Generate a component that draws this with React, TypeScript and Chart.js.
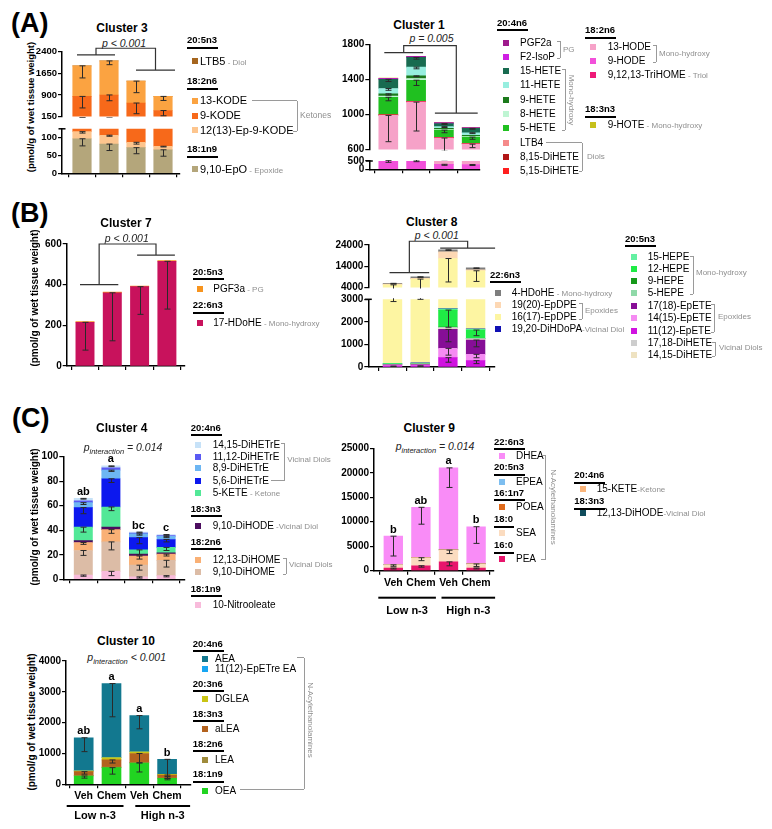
import React, { useEffect, useRef } from 'react';
import { Chart, registerables } from 'chart.js';
Chart.register(...registerables);

const FONT = '"Liberation Sans", Arial, Helvetica, sans-serif';
const GRAY = '#8f8f8f';

// ---- categories ----
const treatments = ['Veh', 'Chem', 'Veh', 'Chem'];
const diets = ['Low n-3', 'High n-3'];

// ---- Cluster 3 (bottom -> top) ----
const c3_EpO = [97, 82, 72, 66];
const c3_EpO_sem = [20, 18, 17, 18];
const c3_EpKODE = [20, 25, 15, 10];
const c3_EpKODE_sem = [4, 3, 5, 2];
const c3_9KODE = [733, 793, 533, 284];
const c3_9KODE_sem = [400, 200, 370, 180];
const c3_13KODE = [1060, 1180, 760, 490];
const c3_13KODE_sem = [420, 130, 400, 140];
const c3_LTB5 = [2, 2, 2, 1];
const c3_ticksUp = [150, 900, 1650, 2400];
const c3_ticksLo = [0, 50, 100];

// ---- Cluster 1 ----
const c1_9HODE = [540, 560, 300, 290];
const c1_9HODE_sem = [120, 100, 60, 60];
const c1_13HODE = [448, 580, 430, 370];
const c1_13HODE_sem = [300, 330, 150, 40];
const c1_TriHOME = [2, 2, 2, 2];
const c1_515DiHETE = [3, 3, 2, 2];
const c1_815DiHETE = [2, 2, 1, 2];
const c1_LTB4 = [2, 2, 2, 2];
const c1_5HETE = [198, 241, 83, 72];
const c1_5HETE_sem = [40, 60, 30, 25];
const c1_8HETE = [15, 20, 10, 10];
const c1_9HETE = [25, 30, 10, 10];
const c1_9HETE_sem = [15, 10, 0, 0];
const c1_11HETE = [60, 100, 20, 30];
const c1_11HETE_sem = [20, 20, 10, 10];
const c1_15HETE = [105, 110, 35, 50];
const c1_15HETE_sem = [25, 20, 10, 10];
const c1_F2IsoP = [5, 5, 5, 4];
const c1_PGF2a = [7, 7, 5, 5];
const c1_9HOTE = [1, 1, 1, 1];
const c1_ticksUp = [600, 1000, 1400, 1800];
const c1_ticksLo = [0, 500];

// ---- Cluster 7 ----
const c7_17HDoHE = [215, 360, 390, 515];
const c7_17HDoHE_sem = [137, 236, 136, 235];
const c7_PGF3a = [3, 3, 3, 4];
const c7_ticks = [0, 200, 400, 600];

// ---- Cluster 8 ----
const c8_1112EpETE = [40, 50, 412, 280];
const c8_1112EpETE_sem = [20, 20, 200, 130];
const c8_1415EpETE = [25, 30, 414, 280];
const c8_1415EpETE_sem = [0, 0, 300, 150];
const c8_1718EpETE = [30, 30, 842, 635];
const c8_1718EpETE_sem = [0, 0, 550, 300];
const c8_1415DiHETE = [5, 5, 20, 15];
const c8_1718DiHETE = [10, 15, 62, 40];
const c8_5HEPE = [5, 5, 10, 10];
const c8_9HEPE = [5, 5, 10, 10];
const c8_12HEPE = [25, 20, 752, 367];
const c8_12HEPE_sem = [0, 0, 760, 250];
const c8_15HEPE = [15, 15, 58, 43];
const c8_DiHDoPA = [5, 5, 10, 10];
const c8_1617EpDPE = [5135, 7820, 15060, 10210];
const c8_1617EpDPE_sem = [2400, 5000, 11000, 5000];
const c8_1920EpDPE = [300, 300, 3100, 400];
const c8_4HDoHE = [400, 800, 1000, 950];
const c8_4HDoHE_sem = [200, 300, 300, 300];
const c8_ticksUp = [4000, 14000, 24000];
const c8_ticksLo = [0, 1000, 2000, 3000];

// ---- Cluster 4 ----
const c4_Nitro = [3.5, 6.5, 2, 3];
const c4_Nitro_sem = [1, 3.5, 1, 1];
const c4_910DiHOME = [20, 24, 9.5, 12.5];
const c4_910DiHOME_sem = [4, 6.5, 4, 5.5];
const c4_1213DiHOME = [6.5, 10, 7.5, 5];
const c4_1213DiHOME_sem = [1.5, 3, 2.5, 1.5];
const c4_910DiHODE = [1.5, 2, 1.5, 1];
const c4_5KETE = [11, 16.5, 3.5, 4.5];
const c4_5KETE_sem = [4, 3, 4, 2.5];
const c4_56DiHETrE = [16, 23, 10, 6.5];
const c4_56DiHETrE_sem = [5, 3, 5, 2];
const c4_89DiHETrE = [4, 7, 3, 2.5];
const c4_89DiHETrE_sem = [1.5, 1, 1, 1];
const c4_1112DiHETrE = [1.5, 2, 0.8, 0.7];
const c4_1415DiHETrE = [2, 1.5, 0.7, 0.8];
const c4_1415DiHETrE_sem = [0.6, 0.6, 0.6, 0.6];
const c4_ticks = [0, 20, 40, 60, 80, 100];
const c4_letters = ['ab', 'a', 'bc', 'c'];

// ---- Cluster 9 ----
const c9_PEA = [550, 1020, 1800, 560];
const c9_PEA_sem = [200, 300, 800, 200];
const c9_SEA = [650, 1630, 2400, 810];
const c9_SEA_sem = [300, 600, 700, 500];
const c9_POEA = [20, 30, 40, 20];
const c9_EPEA = [20, 30, 40, 20];
const c9_15KETE = [5, 5, 5, 5];
const c9_1213DiHODE = [5, 5, 5, 5];
const c9_DHEA = [5800, 10230, 16710, 7560];
const c9_DHEA_sem = [4050, 3450, 4000, 3400];
const c9_ticks = [0, 5000, 10000, 15000, 20000, 25000];
const c9_letters = ['b', 'ab', 'a', 'b'];

// ---- Cluster 10 ----
const c10_OEA = [270, 540, 690, 195];
const c10_OEA_sem = [70, 210, 290, 50];
const c10_LEA = [10, 15, 15, 10];
const c10_aLEA = [130, 235, 295, 95];
const c10_aLEA_sem = [80, 100, 300, 50];
const c10_DGLEA = [30, 75, 50, 20];
const c10_EpEA = [5, 5, 5, 5];
const c10_AEA = [1065, 2400, 1175, 485];
const c10_AEA_sem = [450, 1080, 430, 620];
const c10_ticks = [0, 1000, 2000, 3000, 4000];
const c10_letters = ['ab', 'a', 'a', 'b'];

// ---- colours ----
const C = {
  LTB5: '#A5651E', KODE13: '#FBA341', KODE9: '#F7691A', EpKODE: '#FDC58E', EpO: '#B4A67B',
  PGF2a: '#9E1A8C', F2IsoP: '#CF1FE3', HETE15: '#186B50', HETE11: '#97EEDF', HETE9: '#1C7A1C',
  HETE8: '#BFF5D3', HETE5: '#20C020', LTB4: '#F58A8A', DiHETE815: '#B11616', DiHETE515: '#FF1F1F',
  HODE13: '#F6A2C8', HODE9: '#F250DA', TriHOME: '#EE1A78', HOTE9: '#C6C01C',
  PGF3a: '#F7941E', HDoHE17: '#C8125C',
  HDoHE4: '#7E7E7E', EpDPE1920: '#FDD8B4', EpDPE1617: '#FDF5A2', DiHDoPA: '#1010B4',
  HEPE15: '#64F0A2', HEPE12: '#1FEB45', HEPE9: '#16991A', HEPE5: '#8FD9A8',
  EpETE1718: '#860E96', EpETE1415: '#F58BF2', EpETE1112: '#D013E0', DiHETE1718: '#CDCDCD', DiHETE1415: '#EEE2C1',
  DiHETrE1415: '#C7E2F8', DiHETrE1112: '#5A5AF3', DiHETrE89: '#6DB6F3', DiHETrE56: '#0C18EE',
  KETE5: '#52E897', DiHODE910: '#4C0D5F', DiHOME1213: '#F9B075', DiHOME910: '#DCBCA6', Nitro: '#F8BBDB',
  DHEA: '#F98CF7', EPEA: '#7DBEF0', POEA: '#DE6A1B', SEA: '#FBDCC0', PEA: '#E8156C',
  KETE15: '#FBB57B', DiHODE1213: '#0F4C5C',
  AEA: '#12788F', EpEA: '#17A6F2', DGLEA: '#C9C414', aLEA: '#B3621E', LEA: '#9F8B3B', OEA: '#21D421',
};

const S = (color: string, data: number[], err?: number[]) => ({ color, data, err });

const c3Series = [S(C.EpO, c3_EpO, c3_EpO_sem), S(C.EpKODE, c3_EpKODE, c3_EpKODE_sem), S(C.KODE9, c3_9KODE, c3_9KODE_sem), S(C.KODE13, c3_13KODE, c3_13KODE_sem), S(C.LTB5, c3_LTB5)];
const c1Series = [S(C.HODE9, c1_9HODE, c1_9HODE_sem), S(C.HODE13, c1_13HODE, c1_13HODE_sem), S(C.TriHOME, c1_TriHOME), S(C.DiHETE515, c1_515DiHETE), S(C.DiHETE815, c1_815DiHETE), S(C.LTB4, c1_LTB4), S(C.HETE5, c1_5HETE, c1_5HETE_sem), S(C.HETE8, c1_8HETE), S(C.HETE9, c1_9HETE, c1_9HETE_sem), S(C.HETE11, c1_11HETE, c1_11HETE_sem), S(C.HETE15, c1_15HETE, c1_15HETE_sem), S(C.F2IsoP, c1_F2IsoP), S(C.PGF2a, c1_PGF2a), S(C.HOTE9, c1_9HOTE)];
const c7Series = [S(C.HDoHE17, c7_17HDoHE, c7_17HDoHE_sem), S(C.PGF3a, c7_PGF3a)];
const c8Series = [S(C.EpETE1112, c8_1112EpETE, c8_1112EpETE_sem), S(C.EpETE1415, c8_1415EpETE, c8_1415EpETE_sem), S(C.EpETE1718, c8_1718EpETE, c8_1718EpETE_sem), S(C.DiHETE1415, c8_1415DiHETE), S(C.DiHETE1718, c8_1718DiHETE), S(C.HEPE5, c8_5HEPE), S(C.HEPE9, c8_9HEPE), S(C.HEPE12, c8_12HEPE, c8_12HEPE_sem), S(C.HEPE15, c8_15HEPE), S(C.DiHDoPA, c8_DiHDoPA), S(C.EpDPE1617, c8_1617EpDPE, c8_1617EpDPE_sem), S(C.EpDPE1920, c8_1920EpDPE), S(C.HDoHE4, c8_4HDoHE, c8_4HDoHE_sem)];
const c4Series = [S(C.Nitro, c4_Nitro, c4_Nitro_sem), S(C.DiHOME910, c4_910DiHOME, c4_910DiHOME_sem), S(C.DiHOME1213, c4_1213DiHOME, c4_1213DiHOME_sem), S(C.DiHODE910, c4_910DiHODE), S(C.KETE5, c4_5KETE, c4_5KETE_sem), S(C.DiHETrE56, c4_56DiHETrE, c4_56DiHETrE_sem), S(C.DiHETrE89, c4_89DiHETrE, c4_89DiHETrE_sem), S(C.DiHETrE1112, c4_1112DiHETrE), S(C.DiHETrE1415, c4_1415DiHETrE, c4_1415DiHETrE_sem)];
const c9Series = [S(C.PEA, c9_PEA, c9_PEA_sem), S(C.SEA, c9_SEA, c9_SEA_sem), S(C.POEA, c9_POEA), S(C.EPEA, c9_EPEA), S(C.KETE15, c9_15KETE), S(C.DiHODE1213, c9_1213DiHODE), S(C.DHEA, c9_DHEA, c9_DHEA_sem)];
const c10Series = [S(C.OEA, c10_OEA, c10_OEA_sem), S(C.LEA, c10_LEA), S(C.aLEA, c10_aLEA, c10_aLEA_sem), S(C.DGLEA, c10_DGLEA), S(C.EpEA, c10_EpEA), S(C.AEA, c10_AEA, c10_AEA_sem)];

// ---- plugin: error bars, letters, brackets, group labels, break marks ----
const extras = {
  id: 'extras',
  afterDatasetsDraw(chart: any, _a: any, o: any) {
    if (!o || !o.series) return;
    const { ctx, chartArea: A } = chart;
    const xs = chart.scales.x, ys = chart.scales.y;
    const n = o.series[0].data.length;
    const cum = new Array(n).fill(0);
    ctx.save();
    ctx.beginPath();
    ctx.rect(A.left - 6, A.top - 1, A.right - A.left + 12, A.bottom - A.top + 2);
    ctx.clip();
    ctx.strokeStyle = '#2a2a2a';
    ctx.lineWidth = 1;
    o.series.forEach((s: any) => {
      s.data.forEach((v: number, i: number) => {
        cum[i] += v;
        const e = s.err ? s.err[i] : 0;
        if (!e) return;
        const x = Math.round(xs.getPixelForValue(i)) + 0.5;
        const y1 = ys.getPixelForValue(cum[i]);
        const y0 = ys.getPixelForValue(cum[i] - e);
        ctx.beginPath();
        ctx.moveTo(x, y1); ctx.lineTo(x, y0);
        ctx.moveTo(x - 3, y1); ctx.lineTo(x + 3, y1);
        ctx.moveTo(x - 3, y0); ctx.lineTo(x + 3, y0);
        ctx.stroke();
      });
    });
    ctx.restore();
  },
  afterDraw(chart: any, _a: any, o: any) {
    if (!o) return;
    const { ctx, chartArea: A } = chart;
    const xs = chart.scales.x, ys = chart.scales.y;
    ctx.save();
    if (o.letters) {
      const n = o.series[0].data.length;
      ctx.fillStyle = '#000';
      ctx.font = `bold 11px ${FONT}`;
      ctx.textAlign = 'center';
      ctx.textBaseline = 'bottom';
      for (let i = 0; i < n; i++) {
        const tot = o.series.reduce((a: number, s: any) => a + s.data[i], 0);
        ctx.fillText(o.letters[i], xs.getPixelForValue(i), ys.getPixelForValue(tot) - 1);
      }
    }
    if (o.bracket) {
      const b = o.bracket;
      const xl0 = xs.getPixelForValue(0) + b.lx[0], xl1 = xs.getPixelForValue(1) + b.lx[1];
      const xr0 = xs.getPixelForValue(2) + b.rx[0], xr1 = xs.getPixelForValue(3) + b.rx[1];
      const yl = ys.getPixelForValue(b.yL), yr = ys.getPixelForValue(b.yR), yt = ys.getPixelForValue(b.yTop);
      const ml = (xl0 + xl1) / 2, mr = (xr0 + xr1) / 2;
      ctx.strokeStyle = '#333';
      ctx.lineWidth = 1.2;
      ctx.beginPath();
      ctx.moveTo(xl0, yl); ctx.lineTo(xl1, yl);
      ctx.moveTo(ml, yl); ctx.lineTo(ml, yt); ctx.lineTo(mr, yt); ctx.lineTo(mr, yr);
      ctx.moveTo(xr0, yr); ctx.lineTo(xr1, yr);
      ctx.stroke();
    }
    if (o.groups) {
      ctx.fillStyle = '#000';
      ctx.font = `bold 11px ${FONT}`;
      ctx.textAlign = 'center';
      ctx.textBaseline = 'middle';
      o.groups.forEach((g: any) => {
        const xa = xs.getPixelForValue(g.a) + g.l, xb = xs.getPixelForValue(g.b) + g.r;
        const y = A.bottom + o.groupDy;
        ctx.fillRect(xa, y - 1, xb - xa, 2);
        ctx.fillText(g.t, (xa + xb) / 2, y + o.groupTextDy);
      });
    }
    if (o.breakTop) {
      ctx.strokeStyle = '#000';
      ctx.lineWidth = 1.5;
      ctx.beginPath();
      ctx.moveTo(A.left - 3.5, A.top); ctx.lineTo(A.left + 3.5, A.top);
      ctx.stroke();
    }
    ctx.restore();
  },
};

type Ser = { color: string; data: number[]; err?: number[] };
type BarsProps = {
  x0: number; x1: number; yTop: number; yBot: number; yMin: number; yMax: number; ticks: number[];
  c0: number; d: number; barW: number; series: Ser[];
  showX?: boolean; xLabels?: string[]; letters?: string[]; bracket?: any; groups?: any[];
  groupDy?: number; groupTextDy?: number; breakTop?: boolean; tickFs?: number;
};

function Bars(p: BarsProps) {
  const ref = useRef<HTMLCanvasElement>(null);
  const yw = 40, padR = 14, padTop = 16;
  const xh = p.showX ? (p.groups ? 52 : 8) : 2;
  const left = Math.floor(p.x0 - yw);
  const top = Math.floor(p.yTop - padTop);
  const width = Math.ceil(p.x1 + padR - left);
  const height = Math.ceil(p.yBot + xh - top);
  const ywA = p.x0 - left;
  const padTopA = p.yTop - top;
  const xhA = height - (p.yBot - top);
  const padRA = width - (p.x1 - left);
  useEffect(() => {
    const n = p.series[0].data.length;
    const idx = Array.from({ length: n }, (_, i) => i);
    const xmin = -(p.c0 - p.x0) / p.d;
    const xmax = xmin + (p.x1 - p.x0) / p.d;
    const chart = new Chart(ref.current as HTMLCanvasElement, {
      type: 'bar',
      data: {
        datasets: p.series.map((s) => ({
          data: s.data.map((v, i) => ({ x: i, y: v })),
          backgroundColor: s.color,
          borderWidth: 0,
          barThickness: p.barW,
          clip: 0,
        })),
      } as any,
      options: {
        animation: false,
        responsive: false,
        maintainAspectRatio: false,
        events: [],
        layout: { padding: { top: padTopA, right: padRA, left: 0, bottom: p.showX ? 0 : xhA } },
        plugins: {
          legend: { display: false },
          tooltip: { enabled: false },
          extras: {
            series: p.series, letters: p.letters, bracket: p.bracket, groups: p.groups,
            groupDy: p.groupDy, groupTextDy: p.groupTextDy, breakTop: p.breakTop,
          },
        } as any,
        scales: {
          x: {
            type: 'linear', stacked: true, min: xmin, max: xmax, offset: false, display: !!p.showX,
            grid: { display: true, drawOnChartArea: false, drawTicks: true, tickLength: 4, color: '#000', lineWidth: 1.2 },
            border: { display: true, color: '#000', width: 1.5 },
            ticks: {
              display: !!p.xLabels, autoSkip: false, maxRotation: 0, padding: 2, color: '#000',
              font: { family: FONT, size: 10.5, weight: 'bold' },
              callback: (v: any) => (p.xLabels ? p.xLabels[v] ?? '' : ''),
            },
            afterBuildTicks: (s: any) => { s.ticks = idx.map((v) => ({ value: v })); },
            afterFit: (s: any) => { s.height = xhA; s.paddingLeft = 0; s.paddingRight = 0; },
          },
          y: {
            type: 'linear', stacked: true, min: p.yMin, max: p.yMax,
            grid: { display: true, drawOnChartArea: false, drawTicks: true, tickLength: 4, color: '#000', lineWidth: 1.2 },
            border: { display: true, color: '#000', width: 1.5 },
            ticks: { color: '#000', padding: 1, autoSkip: false, font: { family: FONT, size: p.tickFs ?? 10, weight: 'bold' }, callback: (v: any) => String(v) },
            afterBuildTicks: (s: any) => { s.ticks = p.ticks.map((v) => ({ value: v })); },
            afterFit: (s: any) => { s.width = ywA; s.paddingTop = 0; s.paddingBottom = 0; },
          },
        } as any,
      },
      plugins: [extras as any],
    });
    return () => chart.destroy();
  }, []);
  return <canvas ref={ref} width={width} height={height} style={{ position: 'absolute', left, top, width, height }} />;
}

// ---- text helpers ----
function Txt({ x, y, fs = 10, bold = false, italic = false, color = '#000', center = false, children }: any) {
  return (
    <div style={{ position: 'absolute', left: x, top: y - fs / 2, fontSize: fs, lineHeight: 1, fontWeight: bold ? 700 : 400, fontStyle: italic ? 'italic' : 'normal', color, whiteSpace: 'nowrap', fontFamily: FONT, transform: center ? 'translateX(-50%)' : undefined }}>
      {children}
    </div>
  );
}
function Rot({ x, y, t, fs = 10, deg = -90, color = '#000', bold = false }: any) {
  return (
    <div style={{ position: 'absolute', left: x, top: y, transform: `translate(-50%,-50%) rotate(${deg}deg)`, fontSize: fs, lineHeight: 1, fontWeight: bold ? 700 : 400, whiteSpace: 'nowrap', color, fontFamily: FONT }}>{t}</div>
  );
}
function Hdr({ x, y, t, fs = 9.5 }: any) {
  return (
    <div style={{ position: 'absolute', left: x, top: y - fs / 2, fontSize: fs, lineHeight: 1, fontWeight: 700, fontFamily: FONT, whiteSpace: 'nowrap', borderBottom: '2px solid #000', paddingBottom: 2, paddingRight: 1 }}>{t}</div>
  );
}
function Item({ sx, tx, y, c, t, fs = 10, suf, sq = 6 }: any) {
  return (
    <>
      <div style={{ position: 'absolute', left: sx, top: y - sq / 2, width: sq, height: sq, background: c }} />
      <div style={{ position: 'absolute', left: tx, top: y - fs / 2, fontSize: fs, lineHeight: 1, fontFamily: FONT, whiteSpace: 'nowrap', color: '#000' }}>
        {t}
        {suf ? <span style={{ color: GRAY, fontSize: 8 }}>{suf}</span> : null}
      </div>
    </>
  );
}
function HL({ x1, x2, y, c = '#9a9a9a' }: any) {
  return <div style={{ position: 'absolute', left: x1, top: y - 0.5, width: x2 - x1, height: 1, background: c }} />;
}
function VL({ x, y1, y2, c = '#9a9a9a' }: any) {
  return <div style={{ position: 'absolute', left: x - 0.5, top: y1, width: 1, height: y2 - y1, background: c }} />;
}
function Brk({ x, y1, y2, tick = 3 }: any) {
  return (
    <>
      <VL x={x} y1={y1} y2={y2} />
      <HL x1={x - tick} x2={x} y={y1} />
      <HL x1={x - tick} x2={x} y={y2} />
    </>
  );
}
function PInt({ x, y, rel, val }: any) {
  return (
    <div style={{ position: 'absolute', left: x, top: y - 6, transform: 'translateX(-50%)', fontSize: 10.5, lineHeight: 1, fontStyle: 'italic', fontFamily: FONT, whiteSpace: 'nowrap', color: '#222' }}>
      p<span style={{ fontSize: 7.5, position: 'relative', top: 3 }}>interaction</span> {rel} {val}
    </div>
  );
}

const YLAB = '(pmol/g of wet tissue weight)';

export default function App() {
  const groups10 = [
    { a: 0, b: 1, l: -17, r: 12, t: diets[0] },
    { a: 2, b: 3, l: -4, r: 23, t: diets[1] },
  ];
  const groups9 = [
    { a: 0, b: 1, l: -15, r: 15, t: diets[0] },
    { a: 2, b: 3, l: -7, r: 19, t: diets[1] },
  ];
  return (
    <div style={{ position: 'absolute', left: 0, top: 0, width: 772, height: 829, background: '#fff', overflow: 'hidden', fontFamily: FONT }}>
      {/* Panel letters */}
      <Txt x={11} y={23} fs={27} bold>(A)</Txt>
      <Txt x={11} y={213} fs={27} bold>(B)</Txt>
      <Txt x={12} y={418} fs={27} bold>(C)</Txt>

      {/* ===== Cluster 3 ===== */}
      <Txt x={122} y={28} fs={12} bold center>Cluster 3</Txt>
      <Txt x={124} y={43} fs={10.5} italic center color="#222">p &lt; 0.001</Txt>
      <Rot x={30.5} y={107} t={YLAB} fs={9.5} bold />
      <Bars x0={62} x1={180} yTop={51.7} yBot={119.3} yMin={150} yMax={2400} ticks={c3_ticksUp} c0={82} d={27} barW={18.5} series={c3Series} tickFs={9.5}
        bracket={{ yL: 2290, yR: 1760, yTop: 2520, lx: [-5, 6], rx: [0, 12] }} />
      <Bars x0={62} x1={180} yTop={128.8} yBot={173.3} yMin={0} yMax={125} ticks={c3_ticksLo} c0={82} d={27} barW={18.5} series={c3Series} showX breakTop tickFs={9.5} />
      <Hdr x={187} y={40} t="20:5n3" />
      <Item sx={192} tx={200} y={61} c={C.LTB5} t="LTB5" fs={11} suf=" - Diol" />
      <Hdr x={187} y={81} t="18:2n6" />
      <Item sx={192} tx={200} y={100.7} c={C.KODE13} t="13-KODE" fs={11} />
      <Item sx={192} tx={200} y={115.7} c={C.KODE9} t="9-KODE" fs={11} />
      <Item sx={192} tx={200} y={130} c={C.EpKODE} t="12(13)-Ep-9-KODE" fs={11} />
      <HL x1={252} x2={297} y={100.7} />
      <VL x={297} y1={100.7} y2={131} />
      <HL x1={293} x2={297} y={131} />
      <Txt x={300} y={115.7} fs={8.5} color={GRAY}>Ketones</Txt>
      <Hdr x={187} y={149} t="18:1n9" />
      <Item sx={192} tx={200} y={169} c={C.EpO} t="9,10-EpO" fs={11} suf=" - Epoxide" />

      {/* ===== Cluster 1 ===== */}
      <Txt x={419} y={25} fs={12} bold center>Cluster 1</Txt>
      <Txt x={431.5} y={38} fs={10.5} italic center color="#222">p = 0.005</Txt>
      <Bars x0={369.3} x1={480} yTop={44.3} yBot={151.7} yMin={600} yMax={1800} ticks={c1_ticksUp} c0={388.3} d={27.8} barW={19} series={c1Series}
        bracket={{ yL: 1704, yR: 1015, yTop: 1785, lx: [-4, 7], rx: [-9, 6] }} />
      <Bars x0={369.3} x1={480} yTop={161} yBot={169.3} yMin={0} yMax={500} ticks={c1_ticksLo} c0={388.3} d={27.8} barW={19} series={c1Series} showX breakTop />
      <Hdr x={497} y={22.7} t="20:4n6" />
      <Item sx={503} tx={520} y={42.7} c={C.PGF2a} t="PGF2a" />
      <Item sx={503} tx={520} y={56.7} c={C.F2IsoP} t="F2-IsoP" />
      <Item sx={503} tx={520} y={71} c={C.HETE15} t="15-HETE" />
      <Item sx={503} tx={520} y={85.3} c={C.HETE11} t="11-HETE" />
      <Item sx={503} tx={520} y={99.7} c={C.HETE9} t="9-HETE" />
      <Item sx={503} tx={520} y={114} c={C.HETE8} t="8-HETE" />
      <Item sx={503} tx={520} y={128.3} c={C.HETE5} t="5-HETE" />
      <Item sx={503} tx={520} y={142.7} c={C.LTB4} t="LTB4" />
      <Item sx={503} tx={520} y={157} c={C.DiHETE815} t="8,15-DiHETE" />
      <Item sx={503} tx={520} y={171.3} c={C.DiHETE515} t="5,15-DiHETE" />
      <Brk x={560} y1={41} y2={58} />
      <Txt x={563} y={50} fs={8} color={GRAY}>PG</Txt>
      <Brk x={565} y1={69} y2={130} />
      <Rot x={571} y={100} t="Mono-hydroxy" fs={8} deg={90} color={GRAY} />
      <HL x1={546} x2={582} y={142.7} />
      <VL x={582} y1={142.7} y2={171.3} />
      <HL x1={579} x2={582} y={171.3} />
      <Txt x={587} y={157} fs={8} color={GRAY}>Diols</Txt>
      <Hdr x={585} y={30} t="18:2n6" />
      <Item sx={589.5} tx={607.7} y={46.7} c={C.HODE13} t="13-HODE" />
      <Item sx={589.5} tx={607.7} y={61} c={C.HODE9} t="9-HODE" />
      <Item sx={589.5} tx={607.7} y={75.3} c={C.TriHOME} t="9,12,13-TriHOME" suf=" - Triol" />
      <Brk x={656} y1={45} y2={62} />
      <Txt x={659} y={53.7} fs={8} color={GRAY}>Mono-hydroxy</Txt>
      <Hdr x={585} y={109} t="18:3n3" />
      <Item sx={589.5} tx={607.7} y={125} c={C.HOTE9} t="9-HOTE" suf=" - Mono-hydroxy" />

      {/* ===== Cluster 7 ===== */}
      <Txt x={126} y={223.3} fs={12} bold center>Cluster 7</Txt>
      <Txt x={126.7} y={238.3} fs={10.5} italic center color="#222">p &lt; 0.001</Txt>
      <Rot x={35} y={298} t={YLAB} fs={10} bold />
      <Bars x0={66.7} x1={185} yTop={244} yBot={366} yMin={0} yMax={600} ticks={c7_ticks} c0={85} d={27.3} barW={18.3} series={c7Series} showX
        bracket={{ yL: 400, yR: 545, yTop: 600, lx: [-5, 6], rx: [-2.5, 8] }} />
      <Hdr x={192.7} y={271.7} t="20:5n3" />
      <Item sx={197} tx={213.3} y={289} c={C.PGF3a} t="PGF3a" suf=" - PG" />
      <Hdr x={192.7} y={305} t="22:6n3" />
      <Item sx={197} tx={213.3} y={323.3} c={C.HDoHE17} t="17-HDoHE" suf=" - Mono-hydroxy" />

      {/* ===== Cluster 8 ===== */}
      <Txt x={431.7} y={222.3} fs={12} bold center>Cluster 8</Txt>
      <Txt x={436.7} y={235.7} fs={10.5} italic center color="#222">p &lt; 0.001</Txt>
      <Bars x0={368.3} x1={495} yTop={245} yBot={290.3} yMin={4000} yMax={24000} ticks={c8_ticksUp} c0={392.5} d={27.7} barW={18.7} series={c8Series}
        bracket={{ yL: 11050, yR: 22500, yTop: 25760, lx: [-3, 9], rx: [-7.7, 19.5] }} />
      <Bars x0={368.3} x1={495} yTop={299.3} yBot={367} yMin={0} yMax={3000} ticks={c8_ticksLo} c0={392.5} d={27.7} barW={18.7} series={c8Series} showX breakTop />
      <Hdr x={490} y={274.3} t="22:6n3" />
      <Item sx={495} tx={511.7} y={293.3} c={C.HDoHE4} t="4-HDoHE" suf=" - Mono-hydroxy" />
      <Item sx={495} tx={511.7} y={305} c={C.EpDPE1920} t="19(20)-EpDPE" />
      <Item sx={495} tx={511.7} y={316.7} c={C.EpDPE1617} t="16(17)-EpDPE" />
      <Item sx={495} tx={511.7} y={329} c={C.DiHDoPA} t="19,20-DiHDoPA" suf="-Vicinal Diol" />
      <Brk x={582} y1={303} y2={319} />
      <Txt x={585} y={311} fs={8} color={GRAY}>Epoxides</Txt>
      <Hdr x={625} y={238.3} t="20:5n3" />
      <Item sx={630.7} tx={647.7} y={257.3} c={C.HEPE15} t="15-HEPE" />
      <Item sx={630.7} tx={647.7} y={269} c={C.HEPE12} t="12-HEPE" />
      <Item sx={630.7} tx={647.7} y={281} c={C.HEPE9} t="9-HEPE" />
      <Item sx={630.7} tx={647.7} y={293.3} c={C.HEPE5} t="5-HEPE" />
      <Item sx={630.7} tx={647.7} y={305.7} c={C.EpETE1718} t="17(18)-EpETE" />
      <Item sx={630.7} tx={647.7} y={317.7} c={C.EpETE1415} t="14(15)-EpETE" />
      <Item sx={630.7} tx={647.7} y={330.7} c={C.EpETE1112} t="11(12)-EpETE" />
      <Item sx={630.7} tx={647.7} y={343.3} c={C.DiHETE1718} t="17,18-DiHETE" />
      <Item sx={630.7} tx={647.7} y={355} c={C.DiHETE1415} t="14,15-DiHETE" />
      <Brk x={693.3} y1={256} y2={294} />
      <Txt x={696} y={273.3} fs={8} color={GRAY}>Mono-hydroxy</Txt>
      <Brk x={714.3} y1={304} y2={332} />
      <Txt x={718} y={317.3} fs={8} color={GRAY}>Epoxides</Txt>
      <Brk x={715} y1={342} y2={356} />
      <Txt x={719} y={348.3} fs={8} color={GRAY}>Vicinal Diols</Txt>

      {/* ===== Cluster 4 ===== */}
      <Txt x={121.7} y={428.3} fs={12} bold center>Cluster 4</Txt>
      <PInt x={123} y={447.7} rel="=" val="0.014" />
      <Rot x={35} y={517} t={YLAB} fs={10} bold />
      <Bars x0={63.3} x1={185} yTop={456.7} yBot={579.3} yMin={0} yMax={100} ticks={c4_ticks} c0={83.3} d={27.6} barW={18.3} series={c4Series} showX letters={c4_letters} />
      <Hdr x={190.7} y={427.7} t="20:4n6" />
      <Item sx={195} tx={212.7} y={445} c={C.DiHETrE1415} t="14,15-DiHETrE" />
      <Item sx={195} tx={212.7} y={456.5} c={C.DiHETrE1112} t="11,12-DiHETrE" />
      <Item sx={195} tx={212.7} y={468.3} c={C.DiHETrE89} t="8,9-DiHETrE" />
      <Item sx={195} tx={212.7} y={480.7} c={C.DiHETrE56} t="5,6-DiHETrE" />
      <Item sx={195} tx={212.7} y={492.7} c={C.KETE5} t="5-KETE" suf=" - Ketone" />
      <VL x={284} y1={443} y2={480.7} />
      <HL x1={281} x2={284} y={443} />
      <HL x1={271} x2={284} y={480.7} />
      <Txt x={287.3} y={460.3} fs={8} color={GRAY}>Vicinal Diols</Txt>
      <Hdr x={190.7} y={508.3} t="18:3n3" />
      <Item sx={195} tx={212.7} y={526} c={C.DiHODE910} t="9,10-DiHODE" suf=" -Vicinal Diol" />
      <Hdr x={190.7} y={541.7} t="18:2n6" />
      <Item sx={195} tx={212.7} y={560} c={C.DiHOME1213} t="12,13-DiHOME" />
      <Item sx={195} tx={212.7} y={571.7} c={C.DiHOME910} t="9,10-DiHOME" />
      <Brk x={286} y1={558} y2={574} />
      <Txt x={289} y={565} fs={8} color={GRAY}>Vicinal Diols</Txt>
      <Hdr x={190.7} y={588.3} t="18:1n9" />
      <Item sx={195} tx={212.7} y={605} c={C.Nitro} t="10-Nitrooleate" />

      {/* ===== Cluster 9 ===== */}
      <Txt x={429.3} y={428.3} fs={12} bold center>Cluster 9</Txt>
      <PInt x={435} y={447.3} rel="=" val="0.014" />
      <Bars x0={374} x1={493.3} yTop={448.3} yBot={570.7} yMin={0} yMax={25000} ticks={c9_ticks} c0={393.3} d={27.6} barW={18.7} series={c9Series}
        showX xLabels={treatments} letters={c9_letters} groups={groups9} groupDy={27} groupTextDy={13} />
      <Hdr x={494} y={441.7} t="22:6n3" />
      <Item sx={499} tx={516} y={455.7} c={C.DHEA} t="DHEA" />
      <Hdr x={494} y={467} t="20:5n3" />
      <Item sx={499} tx={516} y={481.7} c={C.EPEA} t="EPEA" />
      <Hdr x={494} y={492.7} t="16:1n7" />
      <Item sx={499} tx={516} y={507} c={C.POEA} t="POEA" />
      <Hdr x={494} y={519} t="18:0" />
      <Item sx={499} tx={516} y={533.3} c={C.SEA} t="SEA" />
      <Hdr x={494} y={545} t="16:0" />
      <Item sx={499} tx={516} y={559} c={C.PEA} t="PEA" />
      <VL x={545.7} y1={455.7} y2={559} />
      <HL x1={543} x2={545.7} y={455.7} />
      <HL x1={541} x2={545.7} y={559} />
      <Rot x={553} y={506.7} t="N-Acylethanolamines" fs={8} deg={90} color={GRAY} />
      <Hdr x={574.3} y={475} t="20:4n6" />
      <Item sx={580} tx={596.7} y={489} c={C.KETE15} t="15-KETE" suf="-Ketone" />
      <Hdr x={574.3} y={501} t="18:3n3" />
      <Item sx={580} tx={596.7} y={513.3} c={C.DiHODE1213} t="12,13-DiHODE" suf="-Vicinal Diol" />

      {/* ===== Cluster 10 ===== */}
      <Txt x={126} y={640.7} fs={12} bold center>Cluster 10</Txt>
      <PInt x={126.7} y={658.3} rel="<" val="0.001" />
      <Rot x={32} y={722} t={YLAB} fs={10} bold />
      <Bars x0={66} x1={190.7} yTop={661} yBot={784.3} yMin={0} yMax={4000} ticks={c10_ticks} c0={83.7} d={27.8} barW={19} series={c10Series}
        showX xLabels={treatments} letters={c10_letters} groups={groups10} groupDy={21.7} groupTextDy={10} />
      <Hdr x={192.7} y={643.3} t="20:4n6" />
      <Item sx={201.7} tx={215} y={659} c={C.AEA} t="AEA" />
      <Item sx={201.7} tx={215} y={669.3} c={C.EpEA} t="11(12)-EpETre EA" />
      <Hdr x={192.7} y={683.3} t="20:3n6" />
      <Item sx={201.7} tx={215} y={699} c={C.DGLEA} t="DGLEA" />
      <Hdr x={192.7} y={713.3} t="18:3n3" />
      <Item sx={201.7} tx={215} y={729.3} c={C.aLEA} t="aLEA" />
      <Hdr x={192.7} y={743.3} t="18:2n6" />
      <Item sx={201.7} tx={215} y={760} c={C.LEA} t="LEA" />
      <Hdr x={192.7} y={774} t="18:1n9" />
      <Item sx={201.7} tx={215} y={790.7} c={C.OEA} t="OEA" />
      <VL x={304} y1={657.7} y2={789.3} />
      <HL x1={296.7} x2={304} y={657.7} />
      <HL x1={240} x2={304} y={789.3} />
      <Rot x={310} y={720} t="N-Acylethanolamines" fs={8} deg={90} color={GRAY} />
    </div>
  );
}
